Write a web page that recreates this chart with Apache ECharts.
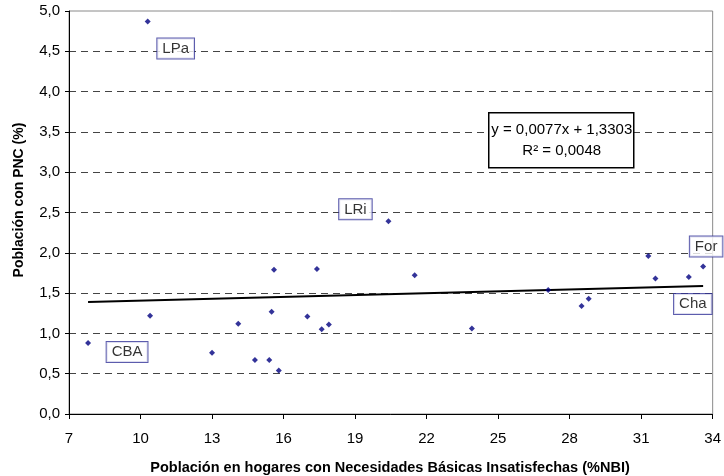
<!DOCTYPE html>
<html>
<head>
<meta charset="utf-8">
<style>
  html, body { margin: 0; padding: 0; background: #fff; }
  #chart { width: 724px; height: 476px; }
</style>
<script src="https://cdn.jsdelivr.net/npm/echarts@6/dist/echarts.min.js"></script>
</head>
<body>
<div id="chart"></div>
<script>
// Provinces: % of population with unmet basic needs (NBI) vs % of population with PNC
const nbi = [7.8, 10.3, 10.4, 13.0, 14.1, 14.8, 15.4, 15.5, 15.6, 15.8, 17.0, 17.4,
             17.6, 17.9, 20.4, 21.5, 23.9, 27.1, 28.5, 28.8, 31.3, 31.6, 33.0, 33.6];
const pnc = [0.88, 4.87, 1.22, 0.76, 1.12, 0.67, 0.67, 1.27, 1.79, 0.54, 1.21, 1.80,
             1.05, 1.11, 2.39, 1.72, 1.06, 1.54, 1.34, 1.43, 1.96, 1.68, 1.70, 1.83];
const names = ['CBA', 'LPa', '', '', '', '', '', '', '', '', '', '',
               '', '', 'LRi', '', '', '', '', '', '', '', 'Cha', 'For'];

// Linear fit shown in the equation box
const slope = 0.0077;
const intercept = 1.3303;
const r2 = 0.0048;

const xTicks = [7, 10, 13, 16, 19, 22, 25, 28, 31, 34];

// Where each province tag sits relative to its point (px)
const tagOffset = {
  CBA: [39, 9],
  LPa: [28, 27],
  LRi: [-33, -12],
  Cha: [4, 27],
  For: [3, -20]
};

const FONT = 'Liberation Sans, Arial, sans-serif';
const comma = (v, d) => v.toFixed(d).replace('.', ',');

const points = nbi.map((x, i) => {
  const item = { value: [x, pnc[i]] };
  if (names[i]) {
    item.label = {
      show: true,
      formatter: names[i],
      position: 'inside',
      offset: tagOffset[names[i]],
      backgroundColor: '#ffffff',
      borderColor: '#333399',
      borderWidth: 1,
      padding: [3, 5, 2, 5],
      color: '#000',
      fontSize: 15,
      fontFamily: FONT
    };
  }
  return item;
});

const xLo = Math.min(...nbi);
const xHi = Math.max(...nbi);
const trend = [[xLo, slope * xLo + intercept], [xHi, slope * xHi + intercept]];

const chart = echarts.init(document.getElementById('chart'), null, { renderer: 'canvas' });

chart.setOption({
  animation: false,
  backgroundColor: '#ffffff',
  grid: {
    left: 69, top: 11, right: 10, bottom: 62,
    show: true,
    borderColor: '#8a8a8a',
    borderWidth: 1,
    backgroundColor: 'transparent'
  },
  xAxis: {
    type: 'value',
    min: 7,
    max: 34,
    axisLine: { show: true, lineStyle: { color: '#000', width: 1 } },
    axisTick: { show: true, customValues: xTicks, length: 5, lineStyle: { color: '#000' } },
    axisLabel: {
      customValues: xTicks,
      margin: 17,
      color: '#000',
      fontSize: 15,
      fontFamily: FONT
    },
    splitLine: { show: false }
  },
  yAxis: {
    type: 'value',
    min: 0,
    max: 5,
    interval: 0.5,
    axisLine: { show: true, lineStyle: { color: '#000', width: 1 } },
    axisTick: { show: true, length: 4, lineStyle: { color: '#000' } },
    axisLabel: {
      margin: 9,
      color: '#000',
      fontSize: 15,
      fontFamily: FONT,
      formatter: v => comma(v, 1)
    },
    splitLine: {
      show: true,
      showMaxLine: false,
      lineStyle: { color: '#444', width: 1, type: [7, 5] }
    }
  },
  series: [
    {
      type: 'line',
      data: trend,
      symbol: 'none',
      lineStyle: { color: '#000', width: 2 },
      z: 2,
      silent: true
    },
    {
      type: 'scatter',
      data: points,
      symbol: 'diamond',
      symbolSize: 6,
      itemStyle: { color: '#000080' },
      z: 3
    }
  ],
  graphic: [
    {
      type: 'group',
      left: 488,
      top: 112,
      z: 100,
      children: [
        {
          type: 'rect',
          z: 100,
          shape: { x: 0, y: 0, width: 145, height: 55 },
          style: { fill: '#fff', stroke: '#000', lineWidth: 1.5 }
        },
        {
          type: 'text',
          z: 101,
          x: 73, y: 17,
          style: {
            text: 'y = ' + comma(slope, 4) + 'x + ' + comma(intercept, 4),
            fill: '#000', fontSize: 15, fontFamily: FONT,
            align: 'center', verticalAlign: 'middle'
          }
        },
        {
          type: 'text',
          z: 101,
          x: 73, y: 38,
          style: {
            text: 'R² = ' + comma(r2, 4),
            fill: '#000', fontSize: 15, fontFamily: FONT,
            align: 'center', verticalAlign: 'middle'
          }
        }
      ]
    },
    {
      type: 'text',
      x: 390, y: 468,
      style: {
        text: 'Población en hogares con Necesidades Básicas Insatisfechas (%NBI)',
        fill: '#000', fontSize: 14.5, fontWeight: 'bold', fontFamily: FONT,
        align: 'center', verticalAlign: 'middle'
      }
    },
    {
      type: 'text',
      x: 19, y: 200,
      rotation: Math.PI / 2,
      style: {
        text: 'Población con PNC (%)',
        fill: '#000', fontSize: 14, fontWeight: 'bold', fontFamily: FONT,
        align: 'center', verticalAlign: 'middle'
      }
    }
  ]
});
</script>
</body>
</html>
